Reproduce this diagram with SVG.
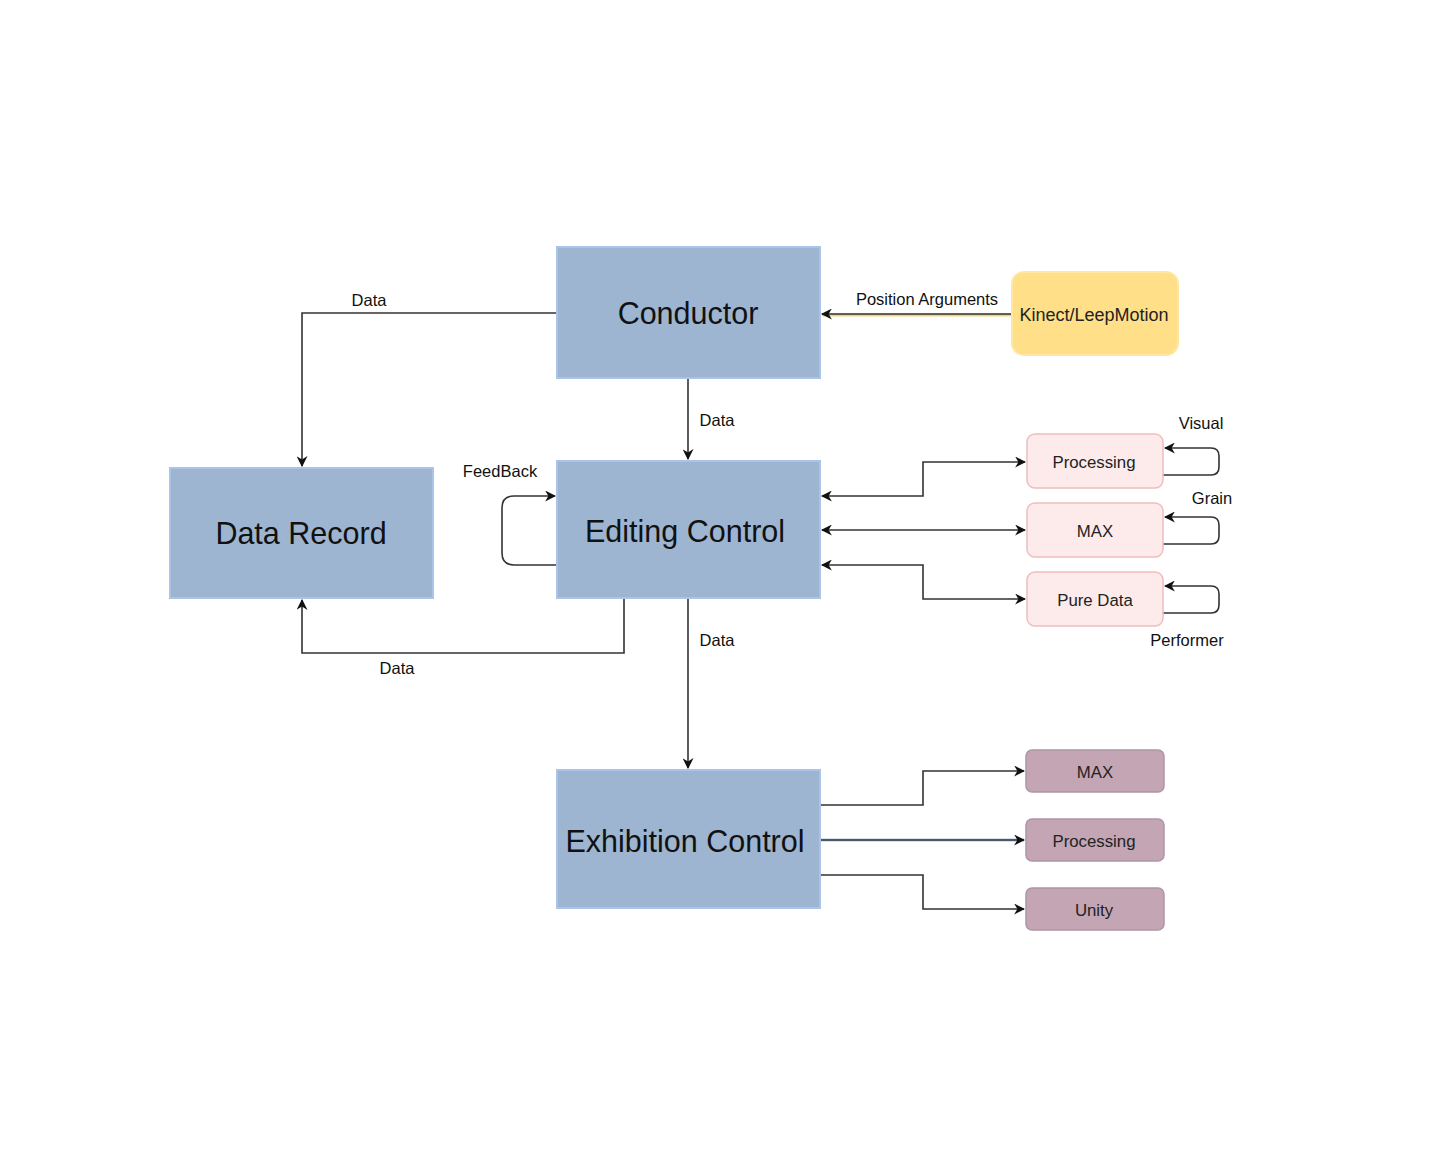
<svg xmlns="http://www.w3.org/2000/svg" width="1430" height="1168" viewBox="0 0 1430 1168">
<style>
.big{fill:#9DB5D0;stroke:#A9C4E8;stroke-width:2}
.bt{font-family:"Liberation Sans",Arial,sans-serif;font-size:30.5px;fill:#111;text-anchor:middle;dominant-baseline:central}
.pink{fill:#FDEBEC;stroke:#F0BDBD;stroke-width:1.5}
.purp{fill:#C3A5B4;stroke:#B095A5;stroke-width:1.5}
.st{font-family:"Liberation Sans",Arial,sans-serif;font-size:16.8px;fill:#222;text-anchor:middle;dominant-baseline:central}
.lbl{font-family:"Liberation Sans",Arial,sans-serif;font-size:16.5px;fill:#111;text-anchor:middle;dominant-baseline:central}
.e{fill:none;stroke:#333;stroke-width:1.6}
</style>
<defs>
<marker id="ah" viewBox="0 0 10 10" refX="9" refY="5" markerWidth="11" markerHeight="11" orient="auto-start-reverse" markerUnits="userSpaceOnUse">
<path d="M0,0 L10,5 L0,10 L3,5 Z" fill="#111"/>
</marker>
</defs>
<rect width="1430" height="1168" fill="#fff"/>
<g id="edges">
<path class="e" d="M557,313 H302 V466" marker-end="url(#ah)"/>
<text class="lbl" x="369" y="300">Data</text>
<path class="e" d="M688,378 V459" marker-end="url(#ah)"/>
<text class="lbl" x="717" y="420">Data</text>
<path d="M1012,315 H822" fill="none" stroke="#F2D37A" stroke-width="3"/>
<path class="e" d="M1012,314 H822" marker-end="url(#ah)"/>
<text class="lbl" x="927" y="299">Position Arguments</text>
<path class="e" d="M557,565 H514 Q502,565 502,553 V508 Q502,496 514,496 H555" marker-end="url(#ah)"/>
<text class="lbl" x="500" y="471">FeedBack</text>
<path class="e" d="M624,598 V653 H302 V600" marker-end="url(#ah)"/>
<text class="lbl" x="397" y="668">Data</text>
<path class="e" d="M688,598 V768" marker-end="url(#ah)"/>
<text class="lbl" x="717" y="640">Data</text>
<path class="e" d="M822,496 H923 V462 H1025" marker-start="url(#ah)" marker-end="url(#ah)"/>
<path class="e" d="M822,530 H1025" marker-start="url(#ah)" marker-end="url(#ah)"/>
<path class="e" d="M822,565 H923 V599 H1025" marker-start="url(#ah)" marker-end="url(#ah)"/>
<path class="e" d="M1163,475 H1211 Q1219,475 1219,467 V456 Q1219,448 1211,448 H1165" marker-end="url(#ah)"/>
<text class="lbl" x="1201" y="423">Visual</text>
<path class="e" d="M1163,544 H1211 Q1219,544 1219,536 V525 Q1219,517 1211,517 H1165" marker-end="url(#ah)"/>
<text class="lbl" x="1212" y="498">Grain</text>
<path class="e" d="M1163,613 H1211 Q1219,613 1219,605 V594 Q1219,586 1211,586 H1165" marker-end="url(#ah)"/>
<text class="lbl" x="1187" y="640">Performer</text>
<path class="e" d="M820,805 H923 V771 H1024" marker-end="url(#ah)"/>
<path d="M820,840 H1024" fill="none" stroke="#A9C4E8" stroke-width="3"/>
<path class="e" d="M820,840 H1024" marker-end="url(#ah)"/>
<path class="e" d="M820,875 H923 V909 H1024" marker-end="url(#ah)"/>
</g>
<g id="conductor"><rect class="big" x="557" y="247" width="263" height="131"/><text class="bt" x="688" y="313">Conductor</text></g>
<g id="kinect"><rect x="1012" y="272" width="166" height="83" rx="12" fill="#FFDF88" stroke="#FFE7A3" stroke-width="2"/><text class="st" x="1094" y="315" style="font-size:18px">Kinect/LeepMotion</text></g>
<g id="datarecord"><rect class="big" x="170" y="468" width="263" height="130"/><text class="bt" x="301" y="533">Data Record</text></g>
<g id="editing"><rect class="big" x="557" y="461" width="263" height="137"/><text class="bt" x="685" y="531">Editing Control</text></g>
<g id="exhibition"><rect class="big" x="557" y="770" width="263" height="138"/><text class="bt" x="685" y="841">Exhibition Control</text></g>
<g id="ed-processing"><rect class="pink" x="1027" y="434" width="136" height="54" rx="8"/><text class="st" x="1094" y="462">Processing</text></g>
<g id="ed-max"><rect class="pink" x="1027" y="503" width="136" height="54" rx="8"/><text class="st" x="1095" y="531">MAX</text></g>
<g id="ed-puredata"><rect class="pink" x="1027" y="572" width="136" height="54" rx="8"/><text class="st" x="1095" y="600">Pure Data</text></g>
<g id="ex-max"><rect class="purp" x="1026" y="750" width="138" height="42" rx="6"/><text class="st" x="1095" y="772">MAX</text></g>
<g id="ex-processing"><rect class="purp" x="1026" y="819" width="138" height="42" rx="6"/><text class="st" x="1094" y="841">Processing</text></g>
<g id="ex-unity"><rect class="purp" x="1026" y="888" width="138" height="42" rx="6"/><text class="st" x="1094" y="910">Unity</text></g>
</svg>
